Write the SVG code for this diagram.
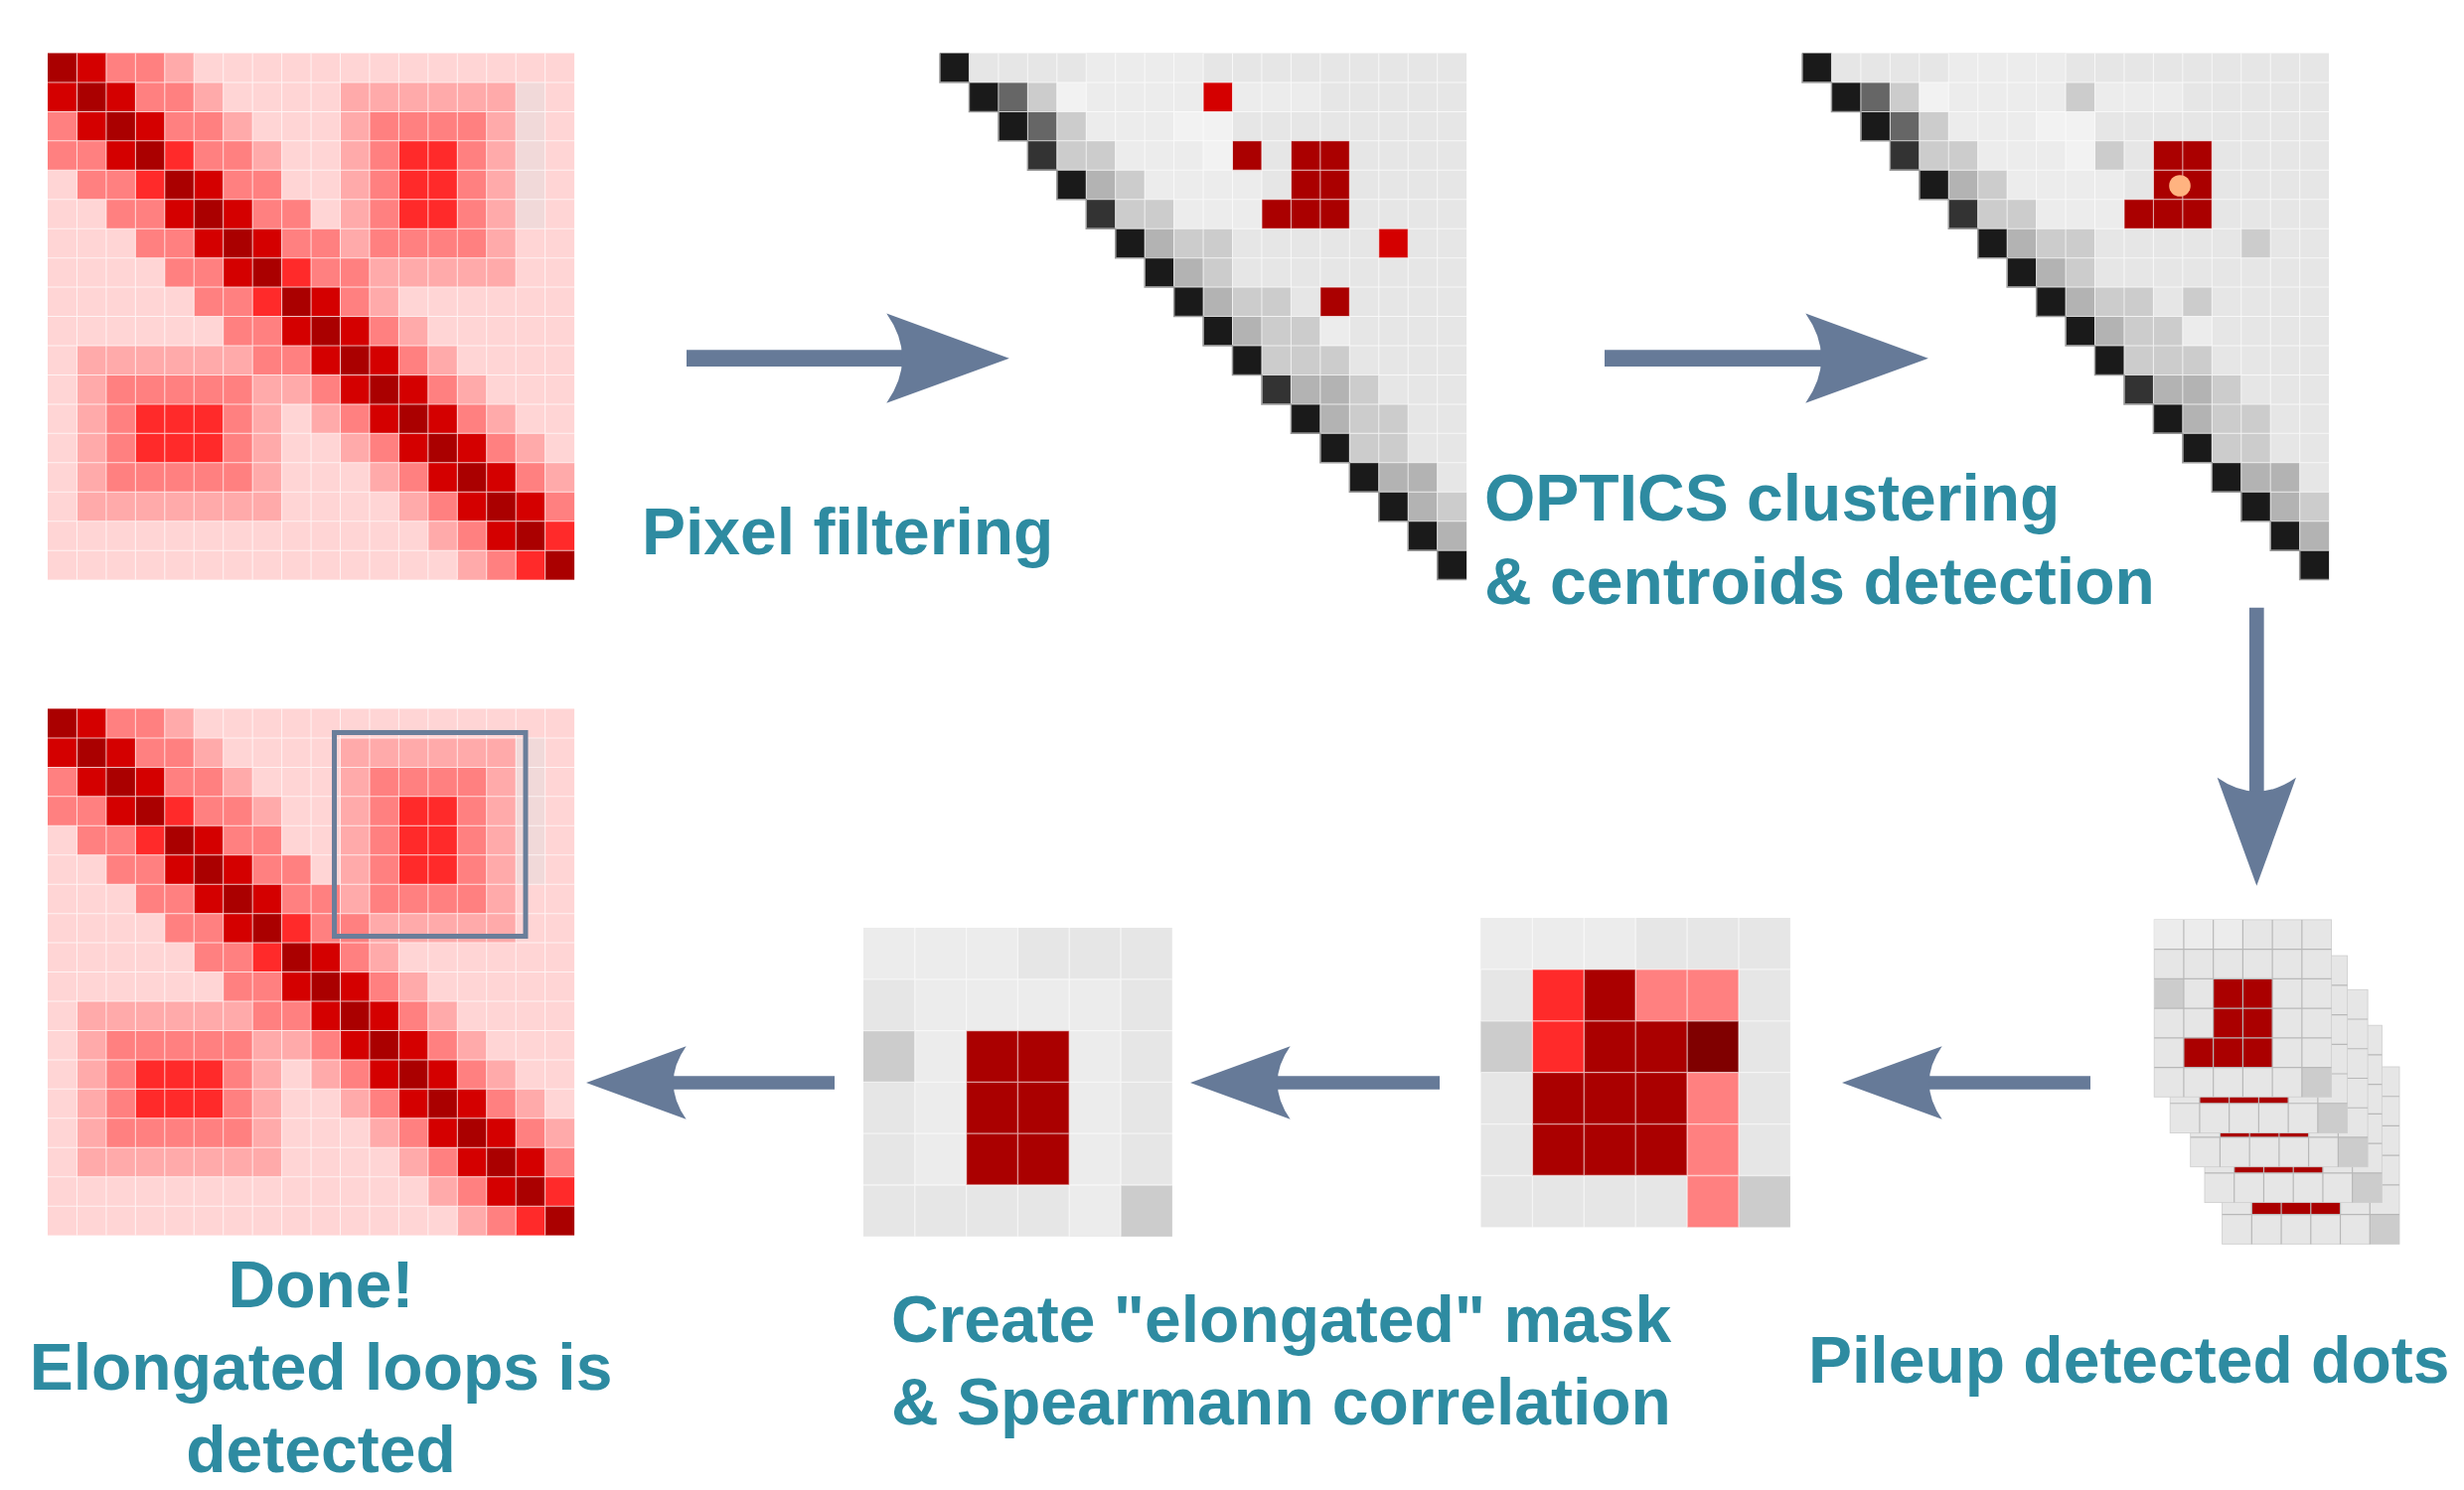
<svg xmlns="http://www.w3.org/2000/svg" width="2480" height="1500" viewBox="0 0 2480 1500">
<style>
.D{fill:#aa0000}.R{fill:#d40000}.B{fill:#ff2a2a}.S{fill:#ff8080}.P{fill:#ffaaaa}.L{fill:#ffd5d5}.G{fill:#f1d9d9}.M{fill:#800000}
.K{fill:#1a1a1a}.d6{fill:#666666}.d3{fill:#333333}.g1{fill:#b3b3b3}.g2{fill:#cccccc}.E{fill:#e6e6e6}.F{fill:#ececec}.W{fill:#f2f2f2}
.gw{fill:none;stroke:#ffffff;stroke-width:.035;stroke-opacity:.7}
.gw6{fill:none;stroke:#ffffff;stroke-width:.025;stroke-opacity:.6}
.gg{fill:none;stroke:#b8b8b8;stroke-width:.04}
.edge{fill:none;stroke:#9a9a9a;stroke-width:.05}
.lbl{font-family:"Liberation Sans",Arial,Helvetica,sans-serif;font-weight:bold;font-size:66px;fill:#2e8ba1}
.arr{stroke:#667a98;fill:none;marker-end:url(#ah)}
</style>
<defs>
<marker id="ah" viewBox="0 -3 8 6" markerWidth="8" markerHeight="6" refX="1.9" refY="0" orient="auto" markerUnits="strokeWidth" overflow="visible">
<path d="M0,-2.7L7.4,0L0,2.7Q1.9,0 0,-2.7Z" fill="#667a98"/>
</marker>
<path id="grid18" d="M1 0V18M2 0V18M3 0V18M4 0V18M5 0V18M6 0V18M7 0V18M8 0V18M9 0V18M10 0V18M11 0V18M12 0V18M13 0V18M14 0V18M15 0V18M16 0V18M17 0V18M0 1H18M0 2H18M0 3H18M0 4H18M0 5H18M0 6H18M0 7H18M0 8H18M0 9H18M0 10H18M0 11H18M0 12H18M0 13H18M0 14H18M0 15H18M0 16H18M0 17H18"/>
<path id="grid6" d="M1 0V6M2 0V6M3 0V6M4 0V6M5 0V6M0 1H6M0 2H6M0 3H6M0 4H6M0 5H6"/>
<g id="hm">
<rect x="0" y="0" width="18" height="18" class="L"/>
<rect x="0" y="0" width="1" height="1" class="D"/><rect x="1" y="0" width="1" height="1" class="R"/><rect x="2" y="0" width="2" height="1" class="S"/><rect x="4" y="0" width="1" height="1" class="P"/>
<rect x="0" y="1" width="1" height="1" class="R"/><rect x="1" y="1" width="1" height="1" class="D"/><rect x="2" y="1" width="1" height="1" class="R"/><rect x="3" y="1" width="2" height="1" class="S"/><rect x="5" y="1" width="1" height="1" class="P"/><rect x="10" y="1" width="6" height="1" class="P"/><rect x="16" y="1" width="1" height="1" class="G"/>
<rect x="0" y="2" width="1" height="1" class="S"/><rect x="1" y="2" width="1" height="1" class="R"/><rect x="2" y="2" width="1" height="1" class="D"/><rect x="3" y="2" width="1" height="1" class="R"/><rect x="4" y="2" width="2" height="1" class="S"/><rect x="6" y="2" width="1" height="1" class="P"/><rect x="10" y="2" width="1" height="1" class="P"/><rect x="11" y="2" width="4" height="1" class="S"/><rect x="15" y="2" width="1" height="1" class="P"/><rect x="16" y="2" width="1" height="1" class="G"/>
<rect x="0" y="3" width="2" height="1" class="S"/><rect x="2" y="3" width="1" height="1" class="R"/><rect x="3" y="3" width="1" height="1" class="D"/><rect x="4" y="3" width="1" height="1" class="B"/><rect x="5" y="3" width="2" height="1" class="S"/><rect x="7" y="3" width="1" height="1" class="P"/><rect x="10" y="3" width="1" height="1" class="P"/><rect x="11" y="3" width="1" height="1" class="S"/><rect x="12" y="3" width="2" height="1" class="B"/><rect x="14" y="3" width="1" height="1" class="S"/><rect x="15" y="3" width="1" height="1" class="P"/><rect x="16" y="3" width="1" height="1" class="G"/>
<rect x="1" y="4" width="2" height="1" class="S"/><rect x="3" y="4" width="1" height="1" class="B"/><rect x="4" y="4" width="1" height="1" class="D"/><rect x="5" y="4" width="1" height="1" class="R"/><rect x="6" y="4" width="2" height="1" class="S"/><rect x="10" y="4" width="1" height="1" class="P"/><rect x="11" y="4" width="1" height="1" class="S"/><rect x="12" y="4" width="2" height="1" class="B"/><rect x="14" y="4" width="1" height="1" class="S"/><rect x="15" y="4" width="1" height="1" class="P"/><rect x="16" y="4" width="1" height="1" class="G"/>
<rect x="2" y="5" width="2" height="1" class="S"/><rect x="4" y="5" width="1" height="1" class="R"/><rect x="5" y="5" width="1" height="1" class="D"/><rect x="6" y="5" width="1" height="1" class="R"/><rect x="7" y="5" width="2" height="1" class="S"/><rect x="10" y="5" width="1" height="1" class="P"/><rect x="11" y="5" width="1" height="1" class="S"/><rect x="12" y="5" width="2" height="1" class="B"/><rect x="14" y="5" width="1" height="1" class="S"/><rect x="15" y="5" width="1" height="1" class="P"/><rect x="16" y="5" width="1" height="1" class="G"/>
<rect x="3" y="6" width="2" height="1" class="S"/><rect x="5" y="6" width="1" height="1" class="R"/><rect x="6" y="6" width="1" height="1" class="D"/><rect x="7" y="6" width="1" height="1" class="R"/><rect x="8" y="6" width="2" height="1" class="S"/><rect x="10" y="6" width="1" height="1" class="P"/><rect x="11" y="6" width="4" height="1" class="S"/><rect x="15" y="6" width="1" height="1" class="P"/>
<rect x="4" y="7" width="2" height="1" class="S"/><rect x="6" y="7" width="1" height="1" class="R"/><rect x="7" y="7" width="1" height="1" class="D"/><rect x="8" y="7" width="1" height="1" class="B"/><rect x="9" y="7" width="2" height="1" class="S"/><rect x="11" y="7" width="5" height="1" class="P"/>
<rect x="5" y="8" width="2" height="1" class="S"/><rect x="7" y="8" width="1" height="1" class="B"/><rect x="8" y="8" width="1" height="1" class="D"/><rect x="9" y="8" width="1" height="1" class="R"/><rect x="10" y="8" width="1" height="1" class="S"/><rect x="11" y="8" width="1" height="1" class="P"/>
<rect x="6" y="9" width="2" height="1" class="S"/><rect x="8" y="9" width="1" height="1" class="R"/><rect x="9" y="9" width="1" height="1" class="D"/><rect x="10" y="9" width="1" height="1" class="R"/><rect x="11" y="9" width="1" height="1" class="S"/><rect x="12" y="9" width="1" height="1" class="P"/>
<rect x="1" y="10" width="6" height="1" class="P"/><rect x="7" y="10" width="2" height="1" class="S"/><rect x="9" y="10" width="1" height="1" class="R"/><rect x="10" y="10" width="1" height="1" class="D"/><rect x="11" y="10" width="1" height="1" class="R"/><rect x="12" y="10" width="1" height="1" class="S"/><rect x="13" y="10" width="1" height="1" class="P"/>
<rect x="1" y="11" width="1" height="1" class="P"/><rect x="2" y="11" width="5" height="1" class="S"/><rect x="7" y="11" width="2" height="1" class="P"/><rect x="9" y="11" width="1" height="1" class="S"/><rect x="10" y="11" width="1" height="1" class="R"/><rect x="11" y="11" width="1" height="1" class="D"/><rect x="12" y="11" width="1" height="1" class="R"/><rect x="13" y="11" width="1" height="1" class="S"/><rect x="14" y="11" width="1" height="1" class="P"/>
<rect x="1" y="12" width="1" height="1" class="P"/><rect x="2" y="12" width="1" height="1" class="S"/><rect x="3" y="12" width="3" height="1" class="B"/><rect x="6" y="12" width="1" height="1" class="S"/><rect x="7" y="12" width="1" height="1" class="P"/><rect x="9" y="12" width="1" height="1" class="P"/><rect x="10" y="12" width="1" height="1" class="S"/><rect x="11" y="12" width="1" height="1" class="R"/><rect x="12" y="12" width="1" height="1" class="D"/><rect x="13" y="12" width="1" height="1" class="R"/><rect x="14" y="12" width="1" height="1" class="S"/><rect x="15" y="12" width="1" height="1" class="P"/>
<rect x="1" y="13" width="1" height="1" class="P"/><rect x="2" y="13" width="1" height="1" class="S"/><rect x="3" y="13" width="3" height="1" class="B"/><rect x="6" y="13" width="1" height="1" class="S"/><rect x="7" y="13" width="1" height="1" class="P"/><rect x="10" y="13" width="1" height="1" class="P"/><rect x="11" y="13" width="1" height="1" class="S"/><rect x="12" y="13" width="1" height="1" class="R"/><rect x="13" y="13" width="1" height="1" class="D"/><rect x="14" y="13" width="1" height="1" class="R"/><rect x="15" y="13" width="1" height="1" class="S"/><rect x="16" y="13" width="1" height="1" class="P"/>
<rect x="1" y="14" width="1" height="1" class="P"/><rect x="2" y="14" width="5" height="1" class="S"/><rect x="7" y="14" width="1" height="1" class="P"/><rect x="11" y="14" width="1" height="1" class="P"/><rect x="12" y="14" width="1" height="1" class="S"/><rect x="13" y="14" width="1" height="1" class="R"/><rect x="14" y="14" width="1" height="1" class="D"/><rect x="15" y="14" width="1" height="1" class="R"/><rect x="16" y="14" width="1" height="1" class="S"/><rect x="17" y="14" width="1" height="1" class="P"/>
<rect x="1" y="15" width="7" height="1" class="P"/><rect x="12" y="15" width="1" height="1" class="P"/><rect x="13" y="15" width="1" height="1" class="S"/><rect x="14" y="15" width="1" height="1" class="R"/><rect x="15" y="15" width="1" height="1" class="D"/><rect x="16" y="15" width="1" height="1" class="R"/><rect x="17" y="15" width="1" height="1" class="S"/>
<rect x="13" y="16" width="1" height="1" class="P"/><rect x="14" y="16" width="1" height="1" class="S"/><rect x="15" y="16" width="1" height="1" class="R"/><rect x="16" y="16" width="1" height="1" class="D"/><rect x="17" y="16" width="1" height="1" class="B"/>
<rect x="14" y="17" width="1" height="1" class="P"/><rect x="15" y="17" width="1" height="1" class="S"/><rect x="16" y="17" width="1" height="1" class="B"/><rect x="17" y="17" width="1" height="1" class="D"/>
<use href="#grid18" class="gw"/>
</g>
<g id="tri">
<path class="E" d="M0 0H18V18H17V17H16V16H15V15H14V14H13V13H12V12H11V11H10V10H9V9H8V8H7V7H6V6H5V5H4V4H3V3H2V2H1V1H0Z"/>
<rect x="0" y="0" width="1" height="1" class="K"/><rect x="5" y="0" width="4" height="1" class="F"/>
<rect x="1" y="1" width="1" height="1" class="K"/><rect x="2" y="1" width="1" height="1" class="d6"/><rect x="3" y="1" width="1" height="1" class="g2"/><rect x="4" y="1" width="1" height="1" class="W"/><rect x="5" y="1" width="4" height="1" class="F"/><rect x="10" y="1" width="3" height="1" class="F"/>
<rect x="2" y="2" width="1" height="1" class="K"/><rect x="3" y="2" width="1" height="1" class="d6"/><rect x="4" y="2" width="1" height="1" class="g2"/><rect x="5" y="2" width="3" height="1" class="F"/><rect x="8" y="2" width="2" height="1" class="W"/>
<rect x="3" y="3" width="1" height="1" class="d3"/><rect x="4" y="3" width="2" height="1" class="g2"/><rect x="6" y="3" width="3" height="1" class="F"/><rect x="9" y="3" width="1" height="1" class="W"/><rect x="12" y="3" width="2" height="1" class="D"/>
<rect x="4" y="4" width="1" height="1" class="K"/><rect x="5" y="4" width="1" height="1" class="g1"/><rect x="6" y="4" width="1" height="1" class="g2"/><rect x="7" y="4" width="4" height="1" class="F"/><rect x="12" y="4" width="2" height="1" class="D"/>
<rect x="5" y="5" width="1" height="1" class="d3"/><rect x="6" y="5" width="2" height="1" class="g2"/><rect x="8" y="5" width="3" height="1" class="F"/><rect x="11" y="5" width="3" height="1" class="D"/>
<rect x="6" y="6" width="1" height="1" class="K"/><rect x="7" y="6" width="1" height="1" class="g1"/><rect x="8" y="6" width="2" height="1" class="g2"/>
<rect x="7" y="7" width="1" height="1" class="K"/><rect x="8" y="7" width="1" height="1" class="g1"/><rect x="9" y="7" width="1" height="1" class="g2"/>
<rect x="8" y="8" width="1" height="1" class="K"/><rect x="9" y="8" width="1" height="1" class="g1"/><rect x="10" y="8" width="2" height="1" class="g2"/>
<rect x="9" y="9" width="1" height="1" class="K"/><rect x="10" y="9" width="1" height="1" class="g1"/><rect x="11" y="9" width="2" height="1" class="g2"/><rect x="13" y="9" width="1" height="1" class="F"/>
<rect x="10" y="10" width="1" height="1" class="K"/><rect x="11" y="10" width="3" height="1" class="g2"/>
<rect x="11" y="11" width="1" height="1" class="d3"/><rect x="12" y="11" width="2" height="1" class="g1"/><rect x="14" y="11" width="1" height="1" class="g2"/>
<rect x="12" y="12" width="1" height="1" class="K"/><rect x="13" y="12" width="1" height="1" class="g1"/><rect x="14" y="12" width="2" height="1" class="g2"/>
<rect x="13" y="13" width="1" height="1" class="K"/><rect x="14" y="13" width="2" height="1" class="g2"/>
<rect x="14" y="14" width="1" height="1" class="K"/><rect x="15" y="14" width="2" height="1" class="g1"/>
<rect x="15" y="15" width="1" height="1" class="K"/><rect x="16" y="15" width="1" height="1" class="g1"/><rect x="17" y="15" width="1" height="1" class="g2"/>
<rect x="16" y="16" width="1" height="1" class="K"/><rect x="17" y="16" width="1" height="1" class="g1"/>
<rect x="17" y="17" width="1" height="1" class="K"/>
</g>
<g id="trigrid">
<use href="#grid18" class="gw"/>
<path class="edge" d="M0 0V1H1V2H2V3H3V4H4V5H5V6H6V7H7V8H8V9H9V10H10V11H11V12H12V13H13V14H14V15H15V16H16V17H17V18H18"/>
</g>
<g id="pl">
<rect x="0" y="0" width="6" height="6" class="E" stroke="#d0d0d0" stroke-width=".03"/>
<rect x="0" y="0" width="3" height="1" class="F"/>
<rect x="0" y="2" width="1" height="1" class="g2"/><rect x="5" y="5" width="1" height="1" class="g2"/>
<rect x="2" y="2" width="2" height="3" class="D"/><rect x="1" y="4" width="1" height="1" class="D"/>
<use href="#grid6" class="gg"/>
</g>
</defs>

<g id="raw-matrix">
<use href="#hm" transform="translate(48,53.5) scale(29.45)"/>
</g>

<g id="pixel-filtering">
<g transform="translate(946,53.5) scale(29.45)">
<use href="#tri"/>
<rect x="9" y="1" width="1" height="1" class="R"/><rect x="10" y="3" width="1" height="1" class="D"/><rect x="15" y="6" width="1" height="1" class="R"/><rect x="13" y="8" width="1" height="1" class="D"/>
<use href="#trigrid"/>
</g>
<text class="lbl" x="646" y="558">Pixel filtering</text>
</g>

<g id="optics-clustering">
<g transform="translate(1814,53.5) scale(29.45)">
<use href="#tri"/>
<rect x="9" y="1" width="1" height="1" class="g2"/><rect x="10" y="3" width="1" height="1" class="g2"/><rect x="15" y="6" width="1" height="1" class="g2"/><rect x="13" y="8" width="1" height="1" class="g2"/>
<use href="#trigrid"/>
</g>
<circle cx="2194" cy="187" r="10.8" fill="#ffb380"/>
<text class="lbl" x="1494" y="524">OPTICS clustering</text>
<text class="lbl" x="1494" y="608">&amp; centroids detection</text>
</g>

<g id="pileup">
<use href="#pl" transform="translate(2236.6,1074) scale(29.73)"/>
<use href="#pl" transform="translate(2219,1032.2) scale(29.73)"/>
<use href="#pl" transform="translate(2204.7,996.3) scale(29.73)"/>
<use href="#pl" transform="translate(2184.2,962.1) scale(29.73)"/>
<use href="#pl" transform="translate(2168.2,925.9) scale(29.73)"/>
<text class="lbl" x="1820" y="1392">Pileup detected dots</text>
</g>

<g id="spearman-pileup">
<g transform="translate(1490.5,924) scale(51.9)">
<rect x="0" y="0" width="6" height="6" class="E"/>
<rect x="0" y="0" width="3" height="1" class="F"/>
<rect x="1" y="1" width="1" height="1" class="B"/><rect x="2" y="1" width="1" height="1" class="D"/><rect x="3" y="1" width="2" height="1" class="S"/>
<rect x="0" y="2" width="1" height="1" class="g2"/><rect x="1" y="2" width="1" height="1" class="B"/><rect x="2" y="2" width="2" height="1" class="D"/><rect x="4" y="2" width="1" height="1" class="M"/>
<rect x="1" y="3" width="3" height="2" class="D"/><rect x="4" y="3" width="1" height="3" class="S"/>
<rect x="5" y="5" width="1" height="1" class="g2"/>
<use href="#grid6" class="gw6"/>
</g>
</g>

<g id="elongated-mask">
<g transform="translate(869,934) scale(51.8)">
<rect x="0" y="0" width="6" height="6" class="E"/>
<rect x="0" y="0" width="3" height="1" class="F"/>
<rect x="1" y="1" width="4" height="1" class="F"/>
<rect x="1" y="2" width="1" height="3" class="F"/><rect x="4" y="2" width="1" height="4" class="F"/>
<rect x="0" y="2" width="1" height="1" class="g2"/><rect x="5" y="5" width="1" height="1" class="g2"/>
<rect x="2" y="2" width="2" height="3" class="D"/>
<use href="#grid6" class="gw6"/>
</g>
<text class="lbl" x="897" y="1351">Create "elongated" mask</text>
<text class="lbl" x="897" y="1434">&amp; Spearmann correlation</text>
</g>

<g id="done">
<use href="#hm" transform="translate(48,713.5) scale(29.45)"/>
<rect x="336.5" y="737.5" width="192.5" height="205" fill="none" stroke="#6a7e9a" stroke-width="5"/>
<text class="lbl" x="323" y="1316" text-anchor="middle">Done!</text>
<text class="lbl" x="323" y="1399" text-anchor="middle">Elongated loops is</text>
<text class="lbl" x="323" y="1482" text-anchor="middle">detected</text>
</g>

<g id="connectors">
<line class="arr" x1="691" y1="360.7" x2="924" y2="360.7" stroke-width="16.7"/>
<line class="arr" x1="1615" y1="360.7" x2="1849" y2="360.7" stroke-width="16.7"/>
<line class="arr" x1="2271.3" y1="611.7" x2="2271.3" y2="810.8" stroke-width="14.7"/>
<line class="arr" x1="2104" y1="1090" x2="1928.8" y2="1090" stroke-width="13.6"/>
<line class="arr" x1="1449" y1="1090" x2="1272.8" y2="1090" stroke-width="13.6"/>
<line class="arr" x1="840" y1="1090" x2="664.8" y2="1090" stroke-width="13.6"/>
</g>
</svg>
